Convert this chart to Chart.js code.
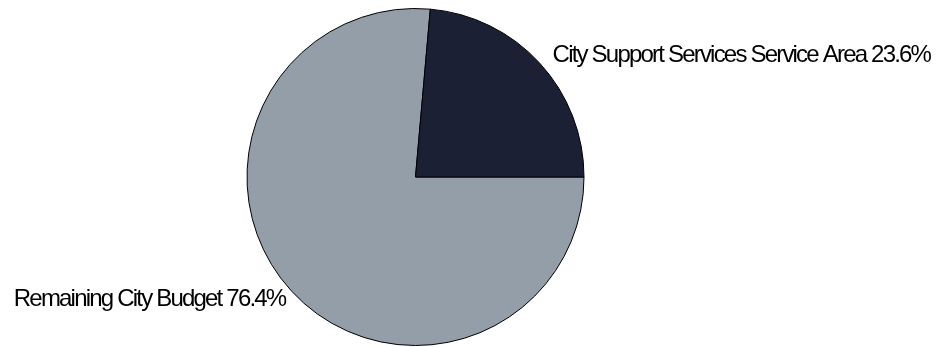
<!DOCTYPE html>
<html>
<head>
<meta charset="utf-8">
<script src="https://cdn.jsdelivr.net/npm/chart.js@4/dist/chart.umd.min.js"></script>
<style>
  html, body { margin: 0; padding: 0; background: #ffffff; }
  #wrap { width: 942px; height: 347px; }
</style>
</head>
<body>
<div id="wrap"><canvas id="budget"></canvas></div>
<script>
// 予算の内訳
const labels = ['Remaining City Budget', 'City Support Services Service Area'];
const shares = [76.4, 23.6];
const colors = ['#949ea8', '#1b2035'];

// 円の外側にラベルを描く
const outsideLabels = {
  id: 'outsideLabels',
  afterDatasetsDraw(chart) {
    const ctx = chart.ctx;
    const arcs = chart.getDatasetMeta(0).data;
    ctx.save();
    ctx.font = '24px "Liberation Sans", Arial, sans-serif';
    ctx.letterSpacing = '-1.8px';
    ctx.fillStyle = '#000000';
    ctx.textBaseline = 'middle';
    arcs.forEach((arc, i) => {
      const mid = (arc.startAngle + arc.endAngle) / 2;
      const r = arc.outerRadius + 12;
      const x = arc.x + Math.cos(mid) * r;
      const y = arc.y + Math.sin(mid) * r;
      const right = Math.cos(mid) >= 0;
      ctx.textAlign = right ? 'left' : 'right';
      ctx.fillText(labels[i] + ' ' + shares[i].toFixed(1) + '%', x + (right ? 4 : 3), y);
    });
    ctx.restore();
  }
};

function drawChart() {
  let ctx = document.getElementById('budget').getContext('2d');
  window.budget = new Chart(ctx, {
    type: 'pie',
    data: {
      labels: labels,
      datasets: [{
        data: shares,
        backgroundColor: colors,
        borderColor: '#000000',
        borderWidth: 1,
      }]
    },
    options: {
      responsive: true,
      maintainAspectRatio: false,
      animation: false,
      rotation: 90,
      layout: {
        padding: { left: 246, right: 357, top: 8, bottom: 1 }
      },
      plugins: {
        legend: { display: false },
        tooltip: { enabled: false }
      }
    },
    plugins: [outsideLabels]
  });
}

drawChart();
</script>
</body>
</html>
